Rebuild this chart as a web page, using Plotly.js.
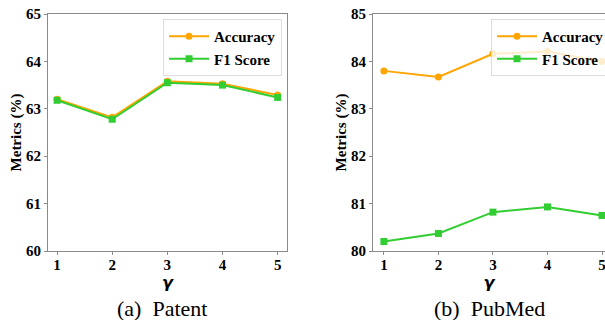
<!DOCTYPE html>
<html>
<head>
<meta charset="utf-8">
<script src="https://cdn.plot.ly/plotly-3.0.1.min.js"></script>
<style>html,body{margin:0;padding:0;background:#fff;}#chart{width:605px;height:320px;}</style>
</head>
<body>
<div id="chart"></div>
<script>
const gammaVals = [1, 2, 3, 4, 5];
const patentAccuracy = [63.20, 62.82, 63.58, 63.53, 63.29];
const patentF1 = [63.18, 62.78, 63.55, 63.50, 63.24];
const pubmedAccuracy = [83.80, 83.67, 84.16, 84.21, 84.00];
const pubmedF1 = [80.20, 80.37, 80.82, 80.93, 80.75];
const yTicksPatent = [60, 61, 62, 63, 64, 65];
const yTicksPubmed = [80, 81, 82, 83, 84, 85];
const captions = ["(a)  Patent", "(b)  PubMed"];

const ORANGE = '#FFA500', GREEN = '#32CD32', AX = '#8a8a8a';
const serif = 'Liberation Serif, Times New Roman, serif';

function tr(y, name, color, symbol, xa, ya, leg) {
  return {x: gammaVals, y: y, name: '<b>' + name + '</b>', type: 'scatter', mode: 'lines+markers',
    line: {color: color, width: 2}, marker: {color: color, symbol: symbol, size: 7},
    xaxis: xa, yaxis: ya, legend: leg};
}
const data = [
  tr(patentAccuracy, 'Accuracy', ORANGE, 'circle', 'x', 'y', 'legend'),
  tr(patentF1, 'F1 Score', GREEN, 'square', 'x', 'y', 'legend'),
  tr(pubmedAccuracy, 'Accuracy', ORANGE, 'circle', 'x2', 'y2', 'legend2'),
  tr(pubmedF1, 'F1 Score', GREEN, 'square', 'x2', 'y2', 'legend2')
];
const tickFont = {family: serif, size: 15, color: '#000'};
function xax(domain, range, anchor) {
  return {domain: domain, range: range, anchor: anchor, tickvals: gammaVals, ticktext: gammaVals.map(v => '<b>' + v + '</b>'),
    showgrid: false, zeroline: false, showline: true, linecolor: AX, linewidth: 1, mirror: true,
    ticks: 'outside', ticklen: 3, tickcolor: AX, tickfont: tickFont, ticklabelstandoff: -3, ticklabeloverflow: 'allow',
    automargin: false,
    title: {text: '<b><i>γ</i></b>', font: {family: 'DejaVu Sans, sans-serif', size: 16, color: '#000'}, standoff: 0}};
}
function yax(domain, range, ticks, anchor, mirror) {
  return {domain: domain, range: range, anchor: anchor, tickvals: ticks, ticktext: ticks.map(v => '<b>' + v + '</b>'),
    showgrid: false, zeroline: false, showline: true, linecolor: AX, linewidth: 1, mirror: mirror,
    ticks: 'outside', ticklen: 3, tickcolor: AX, tickfont: tickFont, automargin: false,
    title: {text: '<b>Metrics (%)</b>', font: {family: serif, size: 15, color: '#000'}, standoff: 0}};
}
const yd = [1 - 251/320, 1 - 14/320];
const legendBase = {font: {family: serif, size: 15, color: '#000'},
  bgcolor: 'rgba(255,255,255,0.8)', bordercolor: '#dddddd', borderwidth: 1,
  xanchor: 'left', yanchor: 'top', itemwidth: 40, tracegroupgap: 0};
const layout = {
  width: 605, height: 320, margin: {l: 0, r: 0, t: 0, b: 0, autoexpand: false},
  paper_bgcolor: '#fff', plot_bgcolor: '#fff',
  xaxis: xax([48/605, 287/605], [0.835, 5.17], 'y'),
  yaxis: yax(yd, [60, 65], yTicksPatent, 'x', true),
  xaxis2: xax([373/605, 1], [0.8, 5.055], 'y2'),
  yaxis2: yax(yd, [80, 85], yTicksPubmed, 'x2', false),
  legend: Object.assign({}, legendBase, {x: 163/605, y: 1 - 19/320}),
  legend2: Object.assign({}, legendBase, {x: 491/605, y: 1 - 19/320}),
  annotations: [
    {text: captions[0], x: 162/605, y: 1 - 308/320, xref: 'paper', yref: 'paper', showarrow: false,
      xanchor: 'center', yanchor: 'middle', font: {family: serif, size: 22, color: '#000'}},
    {text: captions[1], x: 489/605, y: 1 - 308/320, xref: 'paper', yref: 'paper', showarrow: false,
      xanchor: 'center', yanchor: 'middle', font: {family: serif, size: 22, color: '#000'}}
  ],
  showlegend: true
};
Plotly.newPlot('chart', data, layout, {displayModeBar: false, staticPlot: true});
</script>
</body>
</html>
